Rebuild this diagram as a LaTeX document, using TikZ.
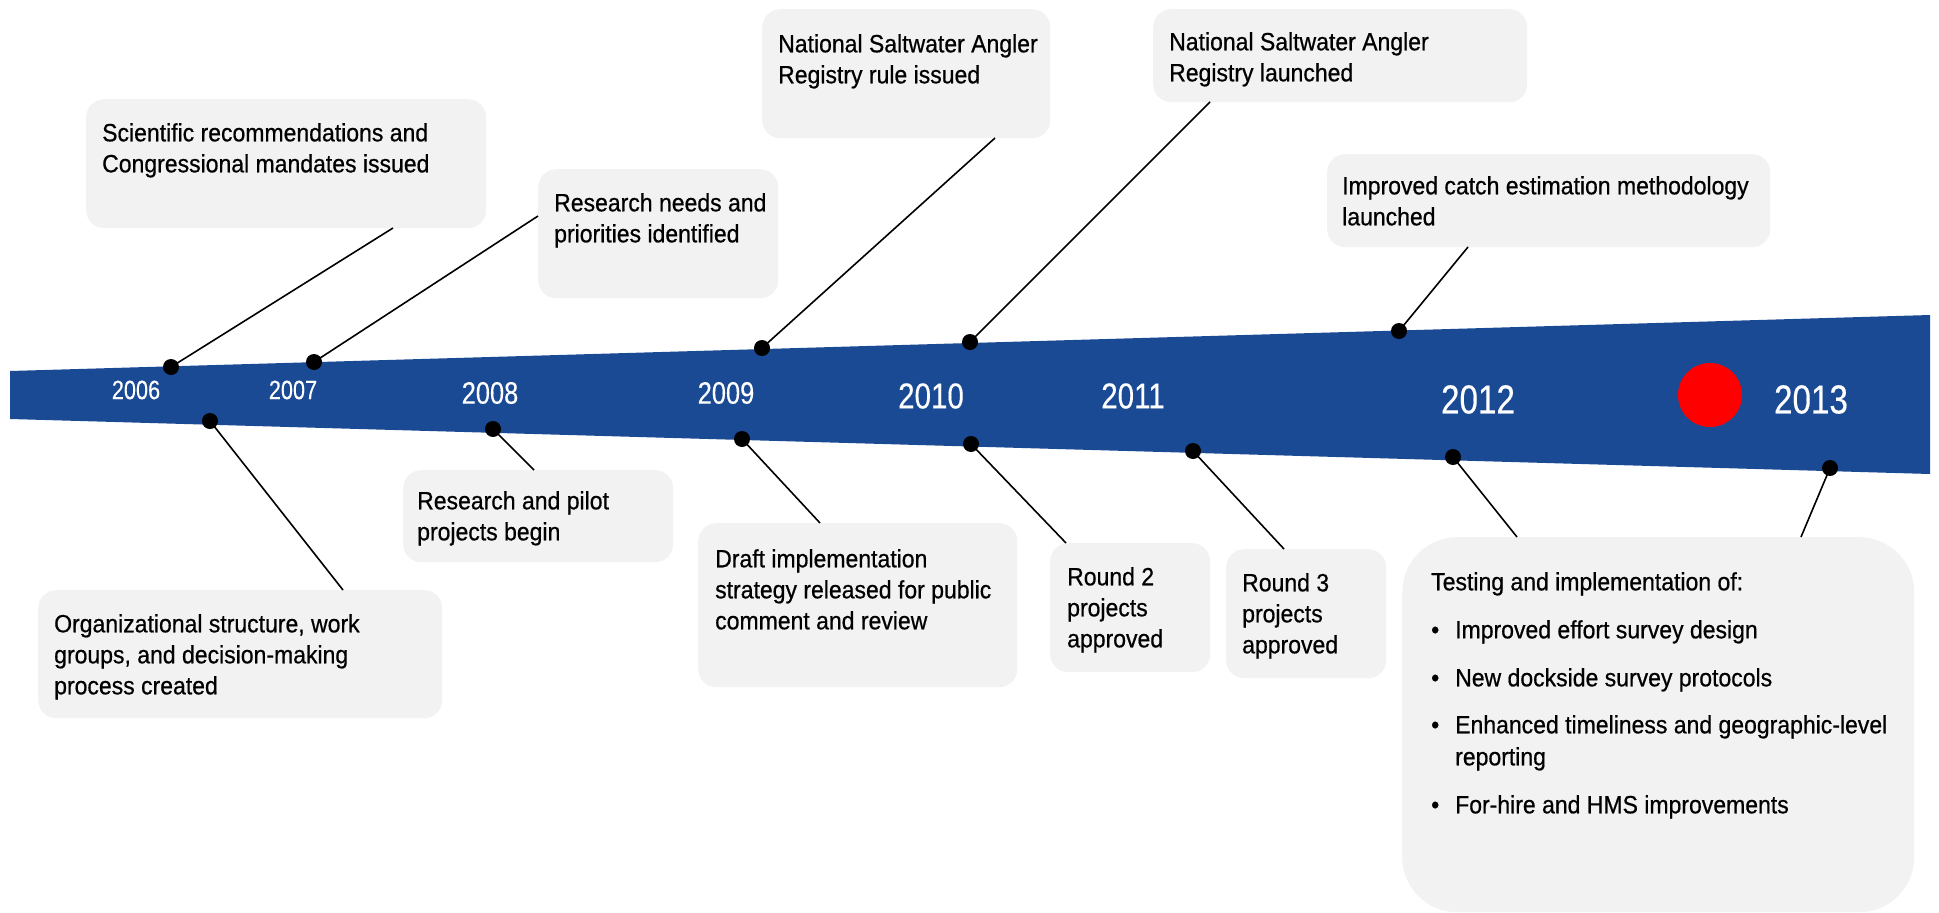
\documentclass[tikz,border=0pt]{standalone}
\usepackage{fontspec}
\setmainfont{Liberation Sans}[FakeStretch=0.92,FakeBold=0.6]
\newfontfamily\yearfont{Liberation Sans}[FakeStretch=0.82,FakeBold=0.3]
\definecolor{bandblue}{HTML}{1A4A94}
\definecolor{boxgray}{HTML}{F2F2F2}
\begin{document}
\begin{tikzpicture}[x=1pt,y=-1pt,
  box/.style={fill=boxgray, rounded corners=18pt, inner sep=0pt, anchor=north west},
  txt/.style={inner sep=0pt, anchor=north west, align=left, font=\fontsize{25}{31}\selectfont, text=black},
  dot/.style={circle, fill=black, inner sep=0pt, minimum size=16pt},
  conn/.style={line width=1.6pt, draw=black},
  yr/.style={text=white, inner sep=0pt, anchor=center}
]
\useasboundingbox (0,0) rectangle (1939,913);

% band
\fill[bandblue] (10,371) -- (1930,315) -- (1930,474) -- (10,419) -- cycle;

% year labels
\node[yr, font=\yearfont\fontsize{26.5}{30}\selectfont] (y2006) at (136,390) {2006};
\node[yr, font=\yearfont\fontsize{26.5}{30}\selectfont] (y2007) at (293,390) {2007};
\node[yr, font=\yearfont\fontsize{31}{34}\selectfont] (y2008) at (490,393) {2008};
\node[yr, font=\yearfont\fontsize{31}{34}\selectfont] (y2009) at (726,393) {2009};
\node[yr, font=\yearfont\fontsize{36}{40}\selectfont] (y2010) at (931,396) {2010};
\node[yr, font=\yearfont\fontsize{36}{40}\selectfont] (y2011) at (1133,396) {2011};
\node[yr, font=\yearfont\fontsize{40.5}{44}\selectfont] (y2012) at (1478,399.5) {2012};
\node[yr, font=\yearfont\fontsize{40.5}{44}\selectfont] (y2013) at (1811,399.5) {2013};

% current marker
\node[circle, fill=red, inner sep=0pt, minimum size=64pt] (now) at (1710,395) {};

% boxes
\node[box, minimum width=400pt, minimum height=129pt] (b1) at (86,99) {};
\node[box, minimum width=240pt, minimum height=129pt] (b2) at (538,169) {};
\node[box, minimum width=288pt, minimum height=129pt] (b3) at (762,9) {};
\node[box, minimum width=374pt, minimum height=93pt] (b4) at (1153,9) {};
\node[box, minimum width=443pt, minimum height=93pt] (b5) at (1327,154) {};
\node[box, minimum width=270pt, minimum height=92pt] (b6) at (403,470) {};
\node[box, minimum width=319pt, minimum height=164pt] (b7) at (698,523) {};
\node[box, minimum width=404pt, minimum height=128pt] (b8) at (38,590) {};
\node[box, minimum width=160pt, minimum height=129pt] (b9) at (1050,543) {};
\node[box, minimum width=160pt, minimum height=129pt] (b10) at (1226,549) {};
\node[box, rounded corners=55pt, minimum width=512pt, minimum height=375pt] (b11) at (1402,537) {};

% texts
\node[txt] (t1) at (102,123) {Scientific recommendations and\\Congressional mandates issued};
\node[txt] (t2) at (554,193) {Research needs and\\priorities identified};
\node[txt] (t3) at (778,34) {National Saltwater Angler\\Registry rule issued};
\node[txt] (t4) at (1169,32) {National Saltwater Angler\\Registry launched};
\node[txt] (t5) at (1342,176) {Improved catch estimation methodology\\launched};
\node[txt] (t6) at (417,491) {Research and pilot\\projects begin};
\node[txt] (t7) at (715,549) {Draft implementation\\strategy released for public\\comment and review};
\node[txt] (t8) at (54,614) {Organizational structure, work\\groups, and decision-making\\process created};
\node[txt] (t9) at (1067,567) {Round 2\\projects\\approved};
\node[txt] (t10) at (1242,573) {Round 3\\projects\\approved};
\node[txt] (t11) at (1431,572) {Testing and implementation of:\\[17pt]
\makebox[24pt][l]{\textbullet}Improved effort survey design\\[17pt]
\makebox[24pt][l]{\textbullet}New dockside survey protocols\\[16pt]
\makebox[24pt][l]{\textbullet}Enhanced timeliness and geographic-level\\[1pt]
\hspace*{24pt}reporting\\[17pt]
\makebox[24pt][l]{\textbullet}For-hire and HMS improvements};

% dots
\node[dot] (d1) at (171,367) {};
\node[dot] (d2) at (314,362) {};
\node[dot] (d3) at (762,348) {};
\node[dot] (d4) at (970,342) {};
\node[dot] (d5) at (1399,331) {};
\node[dot] (d6) at (210,421) {};
\node[dot] (d7) at (493,429) {};
\node[dot] (d8) at (742,439) {};
\node[dot] (d9) at (971,444) {};
\node[dot] (d10) at (1193,451) {};
\node[dot] (d11) at (1453,457) {};
\node[dot] (d12) at (1830,468) {};

% connector ends on box borders
\coordinate (e1) at (393,228);
\coordinate (e2) at (538,216);
\coordinate (e3) at (995,138);
\coordinate (e4) at (1210,102);
\coordinate (e5) at (1468,247);
\coordinate (e6) at (343,590);
\coordinate (e7) at (534,470);
\coordinate (e8) at (820,523);
\coordinate (e9) at (1066,543);
\coordinate (e10) at (1284,549);
\coordinate (e11) at (1517,537);
\coordinate (e12) at (1801,537);

\foreach \i in {1,...,12} {
  \draw[conn] (d\i.center) -- (e\i);
}
\end{tikzpicture}
\end{document}
